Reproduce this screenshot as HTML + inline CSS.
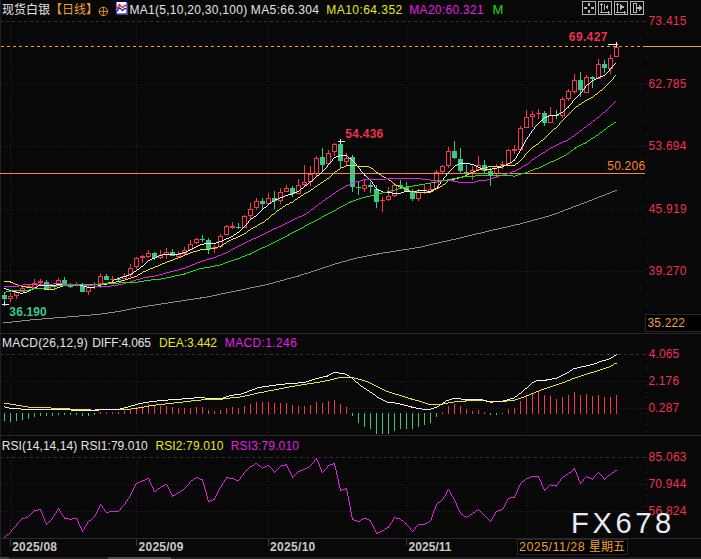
<!DOCTYPE html><html><head><meta charset="utf-8"><style>html,body{margin:0;padding:0;background:#080808;overflow:hidden}</style></head><body><svg width="701" height="559" viewBox="0 0 701 559" style="display:block"><rect width="701" height="559" fill="#080808"/><g shape-rendering="crispEdges" fill="none" stroke-width="1"><path d="M0 21.5H645" stroke="#343434" stroke-dasharray="3 3"/><path d="M1 84.5H645" stroke="#242424" stroke-dasharray="1 2"/><path d="M1 146.5H645" stroke="#242424" stroke-dasharray="1 2"/><path d="M1 209.5H645" stroke="#242424" stroke-dasharray="1 2"/><path d="M1 271.5H645" stroke="#242424" stroke-dasharray="1 2"/><path d="M10.5 18V333" stroke="#242424" stroke-dasharray="1 2"/><path d="M10.5 354V435" stroke="#242424" stroke-dasharray="1 2"/><path d="M10.5 457V538" stroke="#242424" stroke-dasharray="1 2"/><path d="M136.5 18V333" stroke="#242424" stroke-dasharray="1 2"/><path d="M136.5 354V435" stroke="#242424" stroke-dasharray="1 2"/><path d="M136.5 457V538" stroke="#242424" stroke-dasharray="1 2"/><path d="M268.5 18V333" stroke="#242424" stroke-dasharray="1 2"/><path d="M268.5 354V435" stroke="#242424" stroke-dasharray="1 2"/><path d="M268.5 457V538" stroke="#242424" stroke-dasharray="1 2"/><path d="M406.5 18V333" stroke="#242424" stroke-dasharray="1 2"/><path d="M406.5 354V435" stroke="#242424" stroke-dasharray="1 2"/><path d="M406.5 457V538" stroke="#242424" stroke-dasharray="1 2"/><path d="M526.5 18V333" stroke="#242424" stroke-dasharray="1 2"/><path d="M526.5 354V435" stroke="#242424" stroke-dasharray="1 2"/><path d="M526.5 457V538" stroke="#242424" stroke-dasharray="1 2"/><path d="M0 354.5H645" stroke="#343434" stroke-dasharray="3 3"/><path d="M1 381.5H645" stroke="#242424" stroke-dasharray="1 2"/><path d="M1 408.5H645" stroke="#242424" stroke-dasharray="1 2"/><path d="M0 457.5H645" stroke="#343434" stroke-dasharray="3 3"/><path d="M1 484.5H645" stroke="#242424" stroke-dasharray="1 2"/><path d="M1 511.5H645" stroke="#242424" stroke-dasharray="1 2"/><path d="M0 333.5H701M0 435.5H701M0 538.5H701" stroke="#292929"/><path d="M0.5 0V557" stroke="#202020"/><path d="M646.5 21V333" stroke="#333" stroke-dasharray="1 11.4"/><path d="M646.5 354V435" stroke="#333" stroke-dasharray="1 4.4"/><path d="M646.5 457V538" stroke="#333" stroke-dasharray="1 4.4"/><path d="M10.5 539V546" stroke="#3a3a3a"/><path d="M136.5 539V546" stroke="#3a3a3a"/><path d="M268.5 539V546" stroke="#3a3a3a"/><path d="M406.5 539V546" stroke="#3a3a3a"/><path d="M0 558H701" stroke="#1d1d1f" stroke-width="2"/><path d="M108 558H171" stroke="#4c4c55" stroke-width="2"/><path d="M0 558H9" stroke="#3c3c42" stroke-width="2"/></g><g shape-rendering="crispEdges"><rect x="4" y="293" width="1" height="10" fill="#38c886"/><rect x="2" y="295" width="5" height="4" fill="#38c886"/><rect x="10" y="293" width="1" height="9" fill="#f93357"/><rect x="8.5" y="296.5" width="4" height="2" fill="#000" stroke="#f93357"/><rect x="16" y="290" width="1" height="9" fill="#f93357"/><rect x="14.5" y="292.5" width="4" height="3" fill="#000" stroke="#f93357"/><rect x="22" y="287" width="1" height="5" fill="#f93357"/><rect x="20.5" y="288.5" width="4" height="3" fill="#000" stroke="#f93357"/><rect x="28" y="284" width="1" height="4" fill="#f93357"/><rect x="26" y="286" width="5" height="2" fill="#f93357"/><rect x="34" y="279" width="1" height="9" fill="#f93357"/><rect x="32.5" y="283.5" width="4" height="4" fill="#000" stroke="#f93357"/><rect x="40" y="279" width="1" height="5" fill="#f93357"/><rect x="38" y="281" width="5" height="2" fill="#f93357"/><rect x="46" y="280" width="1" height="10" fill="#38c886"/><rect x="44" y="282" width="5" height="8" fill="#38c886"/><rect x="52" y="286" width="1" height="4" fill="#f93357"/><rect x="50.5" y="286.5" width="4" height="3" fill="#000" stroke="#f93357"/><rect x="58" y="278" width="1" height="8" fill="#f93357"/><rect x="56.5" y="280.5" width="4" height="5" fill="#000" stroke="#f93357"/><rect x="64" y="277" width="1" height="9" fill="#38c886"/><rect x="62" y="280" width="5" height="4" fill="#38c886"/><rect x="70" y="283" width="1" height="5" fill="#38c886"/><rect x="68" y="285" width="5" height="2" fill="#38c886"/><rect x="76" y="282" width="1" height="4" fill="#f93357"/><rect x="74" y="284" width="5" height="2" fill="#f93357"/><rect x="82" y="283" width="1" height="9" fill="#38c886"/><rect x="80" y="285" width="5" height="7" fill="#38c886"/><rect x="88" y="285" width="1" height="10" fill="#f93357"/><rect x="86.5" y="287.5" width="4" height="4" fill="#000" stroke="#f93357"/><rect x="94" y="282" width="1" height="7" fill="#f93357"/><rect x="92" y="284" width="5" height="1" fill="#f93357"/><rect x="100" y="273" width="1" height="15" fill="#f93357"/><rect x="98.5" y="276.5" width="4" height="7" fill="#000" stroke="#f93357"/><rect x="106" y="274" width="1" height="6" fill="#38c886"/><rect x="104" y="276" width="5" height="4" fill="#38c886"/><rect x="112" y="276" width="1" height="5" fill="#f93357"/><rect x="110" y="279" width="5" height="1" fill="#f93357"/><rect x="118" y="277" width="1" height="5" fill="#38c886"/><rect x="116" y="279" width="5" height="1" fill="#38c886"/><rect x="124" y="273" width="1" height="6" fill="#f93357"/><rect x="122.5" y="276.5" width="4" height="2" fill="#000" stroke="#f93357"/><rect x="130" y="264" width="1" height="13" fill="#f93357"/><rect x="128.5" y="268.5" width="4" height="6" fill="#000" stroke="#f93357"/><rect x="136" y="257" width="1" height="12" fill="#f93357"/><rect x="134.5" y="258.5" width="4" height="8" fill="#000" stroke="#f93357"/><rect x="142" y="255" width="1" height="8" fill="#f93357"/><rect x="140" y="256" width="5" height="2" fill="#f93357"/><rect x="148" y="250" width="1" height="8" fill="#f93357"/><rect x="146.5" y="253.5" width="4" height="3" fill="#000" stroke="#f93357"/><rect x="154" y="252" width="1" height="8" fill="#38c886"/><rect x="152" y="253" width="5" height="5" fill="#38c886"/><rect x="160" y="250" width="1" height="9" fill="#f93357"/><rect x="158.5" y="255.5" width="4" height="2" fill="#000" stroke="#f93357"/><rect x="166" y="248" width="1" height="11" fill="#f93357"/><rect x="164.5" y="252.5" width="4" height="2" fill="#000" stroke="#f93357"/><rect x="172" y="249" width="1" height="7" fill="#38c886"/><rect x="170" y="252" width="5" height="4" fill="#38c886"/><rect x="178" y="251" width="1" height="6" fill="#f93357"/><rect x="176.5" y="254.5" width="4" height="2" fill="#000" stroke="#f93357"/><rect x="184" y="247" width="1" height="8" fill="#f93357"/><rect x="182.5" y="250.5" width="4" height="3" fill="#000" stroke="#f93357"/><rect x="190" y="240" width="1" height="10" fill="#f93357"/><rect x="188.5" y="244.5" width="4" height="5" fill="#000" stroke="#f93357"/><rect x="196" y="238" width="1" height="6" fill="#f93357"/><rect x="194.5" y="239.5" width="4" height="3" fill="#000" stroke="#f93357"/><rect x="202" y="235" width="1" height="7" fill="#38c886"/><rect x="200" y="239" width="5" height="1" fill="#38c886"/><rect x="208" y="238" width="1" height="16" fill="#38c886"/><rect x="206" y="240" width="5" height="9" fill="#38c886"/><rect x="214" y="245" width="1" height="8" fill="#f93357"/><rect x="212" y="247" width="5" height="2" fill="#f93357"/><rect x="220" y="234" width="1" height="14" fill="#f93357"/><rect x="218.5" y="236.5" width="4" height="10" fill="#000" stroke="#f93357"/><rect x="226" y="225" width="1" height="10" fill="#f93357"/><rect x="224.5" y="226.5" width="4" height="8" fill="#000" stroke="#f93357"/><rect x="232" y="222" width="1" height="7" fill="#f93357"/><rect x="230" y="226" width="5" height="2" fill="#f93357"/><rect x="238" y="223" width="1" height="6" fill="#38c886"/><rect x="236" y="227" width="5" height="1" fill="#38c886"/><rect x="244" y="215" width="1" height="13" fill="#f93357"/><rect x="242.5" y="216.5" width="4" height="11" fill="#000" stroke="#f93357"/><rect x="250" y="203" width="1" height="17" fill="#f93357"/><rect x="248.5" y="209.5" width="4" height="6" fill="#000" stroke="#f93357"/><rect x="256" y="198" width="1" height="12" fill="#f93357"/><rect x="254.5" y="201.5" width="4" height="6" fill="#000" stroke="#f93357"/><rect x="262" y="198" width="1" height="12" fill="#38c886"/><rect x="260" y="201" width="5" height="3" fill="#38c886"/><rect x="268" y="193" width="1" height="11" fill="#f93357"/><rect x="266.5" y="198.5" width="4" height="5" fill="#000" stroke="#f93357"/><rect x="274" y="191" width="1" height="18" fill="#38c886"/><rect x="272" y="198" width="5" height="3" fill="#38c886"/><rect x="280" y="188" width="1" height="16" fill="#f93357"/><rect x="278.5" y="192.5" width="4" height="8" fill="#000" stroke="#f93357"/><rect x="286" y="185" width="1" height="7" fill="#f93357"/><rect x="284.5" y="188.5" width="4" height="3" fill="#000" stroke="#f93357"/><rect x="292" y="186" width="1" height="11" fill="#38c886"/><rect x="290" y="188" width="5" height="6" fill="#38c886"/><rect x="298" y="179" width="1" height="15" fill="#f93357"/><rect x="296.5" y="185.5" width="4" height="8" fill="#000" stroke="#f93357"/><rect x="304" y="165" width="1" height="22" fill="#f93357"/><rect x="302.5" y="182.5" width="4" height="2" fill="#000" stroke="#f93357"/><rect x="310" y="166" width="1" height="20" fill="#f93357"/><rect x="308.5" y="174.5" width="4" height="7" fill="#000" stroke="#f93357"/><rect x="316" y="156" width="1" height="20" fill="#f93357"/><rect x="314.5" y="158.5" width="4" height="15" fill="#000" stroke="#f93357"/><rect x="322" y="148" width="1" height="24" fill="#38c886"/><rect x="320" y="157" width="5" height="8" fill="#38c886"/><rect x="328" y="150" width="1" height="14" fill="#f93357"/><rect x="326.5" y="153.5" width="4" height="10" fill="#000" stroke="#f93357"/><rect x="334" y="143" width="1" height="13" fill="#f93357"/><rect x="332.5" y="144.5" width="4" height="7" fill="#000" stroke="#f93357"/><rect x="340" y="141" width="1" height="28" fill="#38c886"/><rect x="338" y="144" width="5" height="17" fill="#38c886"/><rect x="346" y="153" width="1" height="12" fill="#f93357"/><rect x="344.5" y="158.5" width="4" height="3" fill="#000" stroke="#f93357"/><rect x="352" y="155" width="1" height="37" fill="#38c886"/><rect x="350" y="157" width="5" height="30" fill="#38c886"/><rect x="358" y="182" width="1" height="13" fill="#38c886"/><rect x="356" y="187" width="5" height="1" fill="#38c886"/><rect x="364" y="179" width="1" height="13" fill="#f93357"/><rect x="362.5" y="185.5" width="4" height="3" fill="#000" stroke="#f93357"/><rect x="370" y="182" width="1" height="11" fill="#38c886"/><rect x="368" y="185" width="5" height="2" fill="#38c886"/><rect x="376" y="185" width="1" height="23" fill="#38c886"/><rect x="374" y="189" width="5" height="13" fill="#38c886"/><rect x="382" y="197" width="1" height="15" fill="#f93357"/><rect x="380" y="200" width="5" height="1" fill="#f93357"/><rect x="388" y="187" width="1" height="14" fill="#f93357"/><rect x="386.5" y="196.5" width="4" height="3" fill="#000" stroke="#f93357"/><rect x="394" y="183" width="1" height="14" fill="#f93357"/><rect x="392.5" y="185.5" width="4" height="10" fill="#000" stroke="#f93357"/><rect x="400" y="180" width="1" height="8" fill="#38c886"/><rect x="398" y="185" width="5" height="2" fill="#38c886"/><rect x="406" y="182" width="1" height="9" fill="#38c886"/><rect x="404" y="187" width="5" height="4" fill="#38c886"/><rect x="412" y="189" width="1" height="12" fill="#38c886"/><rect x="410" y="192" width="5" height="7" fill="#38c886"/><rect x="418" y="189" width="1" height="12" fill="#f93357"/><rect x="416.5" y="192.5" width="4" height="6" fill="#000" stroke="#f93357"/><rect x="424" y="185" width="1" height="9" fill="#f93357"/><rect x="422" y="192" width="5" height="1" fill="#f93357"/><rect x="430" y="184" width="1" height="8" fill="#f93357"/><rect x="428.5" y="189.5" width="4" height="2" fill="#000" stroke="#f93357"/><rect x="436" y="170" width="1" height="19" fill="#f93357"/><rect x="434.5" y="172.5" width="4" height="16" fill="#000" stroke="#f93357"/><rect x="442" y="165" width="1" height="8" fill="#f93357"/><rect x="440.5" y="166.5" width="4" height="5" fill="#000" stroke="#f93357"/><rect x="448" y="147" width="1" height="21" fill="#f93357"/><rect x="446.5" y="151.5" width="4" height="14" fill="#000" stroke="#f93357"/><rect x="454" y="141" width="1" height="18" fill="#38c886"/><rect x="452" y="151" width="5" height="7" fill="#38c886"/><rect x="460" y="148" width="1" height="25" fill="#38c886"/><rect x="458" y="159" width="5" height="12" fill="#38c886"/><rect x="466" y="165" width="1" height="12" fill="#38c886"/><rect x="464" y="172" width="5" height="2" fill="#38c886"/><rect x="472" y="166" width="1" height="14" fill="#f93357"/><rect x="470.5" y="170.5" width="4" height="2" fill="#000" stroke="#f93357"/><rect x="478" y="156" width="1" height="14" fill="#f93357"/><rect x="476.5" y="165.5" width="4" height="4" fill="#000" stroke="#f93357"/><rect x="484" y="160" width="1" height="13" fill="#38c886"/><rect x="482" y="165" width="5" height="6" fill="#38c886"/><rect x="490" y="168" width="1" height="18" fill="#38c886"/><rect x="488" y="171" width="5" height="5" fill="#38c886"/><rect x="496" y="164" width="1" height="14" fill="#f93357"/><rect x="494.5" y="166.5" width="4" height="7" fill="#000" stroke="#f93357"/><rect x="502" y="161" width="1" height="8" fill="#f93357"/><rect x="500" y="164" width="5" height="1" fill="#f93357"/><rect x="508" y="149" width="1" height="15" fill="#f93357"/><rect x="506.5" y="150.5" width="4" height="13" fill="#000" stroke="#f93357"/><rect x="514" y="145" width="1" height="9" fill="#f93357"/><rect x="512" y="149" width="5" height="2" fill="#f93357"/><rect x="520" y="126" width="1" height="24" fill="#f93357"/><rect x="518.5" y="128.5" width="4" height="21" fill="#000" stroke="#f93357"/><rect x="526" y="110" width="1" height="18" fill="#f93357"/><rect x="524.5" y="117.5" width="4" height="10" fill="#000" stroke="#f93357"/><rect x="532" y="111" width="1" height="16" fill="#f93357"/><rect x="530.5" y="114.5" width="4" height="2" fill="#000" stroke="#f93357"/><rect x="538" y="109" width="1" height="10" fill="#f93357"/><rect x="536" y="113" width="5" height="1" fill="#f93357"/><rect x="544" y="111" width="1" height="15" fill="#38c886"/><rect x="542" y="113" width="5" height="10" fill="#38c886"/><rect x="550" y="107" width="1" height="16" fill="#f93357"/><rect x="548.5" y="115.5" width="4" height="7" fill="#000" stroke="#f93357"/><rect x="556" y="110" width="1" height="9" fill="#38c886"/><rect x="554" y="115" width="5" height="1" fill="#38c886"/><rect x="562" y="97" width="1" height="21" fill="#f93357"/><rect x="560.5" y="99.5" width="4" height="16" fill="#000" stroke="#f93357"/><rect x="568" y="89" width="1" height="12" fill="#f93357"/><rect x="566.5" y="91.5" width="4" height="7" fill="#000" stroke="#f93357"/><rect x="574" y="74" width="1" height="20" fill="#f93357"/><rect x="572.5" y="80.5" width="4" height="11" fill="#000" stroke="#f93357"/><rect x="580" y="72" width="1" height="25" fill="#38c886"/><rect x="578" y="80" width="5" height="10" fill="#38c886"/><rect x="586" y="75" width="1" height="18" fill="#f93357"/><rect x="584.5" y="77.5" width="4" height="15" fill="#000" stroke="#f93357"/><rect x="592" y="76" width="1" height="12" fill="#38c886"/><rect x="590" y="77" width="5" height="2" fill="#38c886"/><rect x="598" y="59" width="1" height="20" fill="#f93357"/><rect x="596.5" y="64.5" width="4" height="14" fill="#000" stroke="#f93357"/><rect x="604" y="60" width="1" height="13" fill="#38c886"/><rect x="602" y="64" width="5" height="4" fill="#38c886"/><rect x="610" y="55" width="1" height="19" fill="#f93357"/><rect x="608.5" y="58.5" width="4" height="10" fill="#000" stroke="#f93357"/><rect x="616" y="44" width="1" height="13" fill="#f93357"/><rect x="614.5" y="47.5" width="4" height="9" fill="#000" stroke="#f93357"/></g><g shape-rendering="crispEdges" fill="none"><path d="M1 46.5H643" stroke="#f0a030" stroke-dasharray="3 3"/><path d="M643 46.5H701" stroke="#f0a030"/><path d="M0 173.5H645" stroke="#ff8238"/></g><path d="M615 63h1v1h-1zM614 64h1v1h-1zM613 65h1v1h-1zM612 66h1v1h-1zM611 67h1v1h-1zM610 68h1v1h-1zM609 69h1v1h-1zM609 70h1v1h-1zM608 71h1v1h-1zM607 72h1v1h-1zM606 73h1v1h-1zM605 74h1v1h-1zM603 75h2v1h-2zM600 76h3v1h-3zM598 77h2v1h-2zM596 78h2v1h-2zM594 79h2v1h-2zM592 80h2v1h-2zM591 81h1v1h-1zM590 82h1v1h-1zM589 83h1v1h-1zM587 84h2v1h-2zM586 85h1v1h-1zM585 86h1v1h-1zM585 87h1v1h-1zM584 88h1v1h-1zM583 89h1v1h-1zM582 90h1v1h-1zM582 91h1v1h-1zM581 92h1v1h-1zM580 93h1v1h-1zM579 94h1v1h-1zM578 95h1v1h-1zM577 96h1v1h-1zM576 97h1v1h-1zM575 98h1v1h-1zM574 99h1v1h-1zM573 100h1v1h-1zM572 101h1v1h-1zM572 102h1v1h-1zM571 103h1v1h-1zM570 104h1v1h-1zM569 105h1v1h-1zM568 106h1v1h-1zM567 107h2v1h-2zM566 108h1v1h-1zM565 109h1v1h-1zM564 110h1v1h-1zM563 111h1v1h-1zM561 112h2v1h-2zM559 113h2v1h-2zM557 114h2v1h-2zM549 115h8v1h-8zM547 116h2v1h-2zM544 117h3v1h-3zM543 118h1v1h-1zM542 119h1v1h-1zM541 120h1v1h-1zM540 121h1v1h-1zM539 122h1v1h-1zM538 123h1v1h-1zM537 124h1v1h-1zM536 125h1v1h-1zM535 126h1v1h-1zM534 127h1v1h-1zM534 128h1v1h-1zM533 129h1v1h-1zM532 130h1v1h-1zM531 131h1v1h-1zM531 132h1v1h-1zM530 133h1v1h-1zM529 134h1v1h-1zM529 135h1v1h-1zM528 136h1v1h-1zM527 137h1v1h-1zM527 138h1v1h-1zM526 139h1v1h-1zM525 140h1v1h-1zM525 141h1v1h-1zM524 142h1v1h-1zM524 143h1v1h-1zM523 144h1v1h-1zM523 145h1v1h-1zM522 146h1v1h-1zM521 147h1v1h-1zM521 148h1v1h-1zM520 149h1v1h-1zM520 150h1v1h-1zM519 151h1v1h-1zM519 152h1v1h-1zM518 153h1v1h-1zM517 154h1v1h-1zM339 155h8v1h-8zM517 155h1v1h-1zM336 156h3v1h-3zM347 156h1v1h-1zM516 156h1v1h-1zM334 157h2v1h-2zM348 157h1v1h-1zM516 157h1v1h-1zM333 158h1v1h-1zM349 158h2v1h-2zM515 158h1v1h-1zM332 159h1v1h-1zM351 159h1v1h-1zM514 159h1v1h-1zM332 160h1v1h-1zM352 160h1v1h-1zM513 160h2v1h-2zM331 161h1v1h-1zM353 161h1v1h-1zM512 161h1v1h-1zM330 162h1v1h-1zM354 162h1v1h-1zM510 162h2v1h-2zM329 163h1v1h-1zM355 163h1v1h-1zM459 163h11v1h-11zM508 163h2v1h-2zM328 164h1v1h-1zM356 164h1v1h-1zM457 164h2v1h-2zM470 164h4v1h-4zM506 164h2v1h-2zM327 165h1v1h-1zM356 165h1v1h-1zM455 165h2v1h-2zM474 165h2v1h-2zM504 165h2v1h-2zM327 166h1v1h-1zM357 166h1v1h-1zM454 166h1v1h-1zM476 166h2v1h-2zM502 166h2v1h-2zM326 167h1v1h-1zM358 167h1v1h-1zM453 167h1v1h-1zM478 167h2v1h-2zM497 167h5v1h-5zM325 168h1v1h-1zM359 168h1v1h-1zM452 168h1v1h-1zM480 168h5v1h-5zM492 168h5v1h-5zM324 169h1v1h-1zM360 169h1v1h-1zM451 169h1v1h-1zM485 169h7v1h-7zM323 170h1v1h-1zM360 170h1v1h-1zM450 170h1v1h-1zM322 171h1v1h-1zM361 171h1v1h-1zM449 171h1v1h-1zM321 172h1v1h-1zM362 172h1v1h-1zM448 172h1v1h-1zM320 173h1v1h-1zM363 173h1v1h-1zM447 173h1v1h-1zM319 174h1v1h-1zM364 174h1v1h-1zM446 174h1v1h-1zM317 175h2v1h-2zM364 175h2v1h-2zM446 175h1v1h-1zM316 176h1v1h-1zM366 176h1v1h-1zM445 176h1v1h-1zM315 177h1v1h-1zM367 177h1v1h-1zM444 177h1v1h-1zM314 178h1v1h-1zM368 178h1v1h-1zM443 178h1v1h-1zM313 179h1v1h-1zM369 179h1v1h-1zM443 179h1v1h-1zM312 180h1v1h-1zM370 180h1v1h-1zM442 180h1v1h-1zM310 181h2v1h-2zM371 181h1v1h-1zM441 181h1v1h-1zM309 182h1v1h-1zM372 182h1v1h-1zM440 182h1v1h-1zM308 183h1v1h-1zM372 183h1v1h-1zM440 183h1v1h-1zM307 184h1v1h-1zM373 184h1v1h-1zM439 184h1v1h-1zM305 185h2v1h-2zM374 185h1v1h-1zM438 185h1v1h-1zM304 186h1v1h-1zM374 186h1v1h-1zM437 186h1v1h-1zM303 187h1v1h-1zM375 187h1v1h-1zM437 187h1v1h-1zM301 188h2v1h-2zM376 188h1v1h-1zM435 188h2v1h-2zM300 189h1v1h-1zM376 189h2v1h-2zM433 189h2v1h-2zM299 190h1v1h-1zM378 190h3v1h-3zM417 190h10v1h-10zM431 190h2v1h-2zM297 191h2v1h-2zM381 191h2v1h-2zM404 191h13v1h-13zM427 191h4v1h-4zM294 192h3v1h-3zM383 192h9v1h-9zM401 192h3v1h-3zM292 193h2v1h-2zM392 193h9v1h-9zM288 194h4v1h-4zM285 195h3v1h-3zM283 196h2v1h-2zM280 197h3v1h-3zM278 198h2v1h-2zM275 199h3v1h-3zM274 200h1v1h-1zM272 201h2v1h-2zM271 202h1v1h-1zM269 203h2v1h-2zM268 204h1v1h-1zM267 205h1v1h-1zM266 206h1v1h-1zM264 207h2v1h-2zM263 208h1v1h-1zM262 209h1v1h-1zM261 210h1v1h-1zM260 211h1v1h-1zM259 212h1v1h-1zM258 213h1v1h-1zM257 214h1v1h-1zM256 215h1v1h-1zM254 216h2v1h-2zM253 217h1v1h-1zM251 218h2v1h-2zM250 219h1v1h-1zM249 220h1v1h-1zM248 221h1v1h-1zM248 222h1v1h-1zM247 223h1v1h-1zM246 224h1v1h-1zM245 225h1v1h-1zM244 226h1v1h-1zM243 227h1v1h-1zM242 228h1v1h-1zM241 229h1v1h-1zM240 230h1v1h-1zM239 231h1v1h-1zM237 232h2v1h-2zM236 233h1v1h-1zM234 234h2v1h-2zM233 235h1v1h-1zM231 236h2v1h-2zM229 237h2v1h-2zM226 238h3v1h-3zM224 239h2v1h-2zM222 240h2v1h-2zM219 241h3v1h-3zM216 242h3v1h-3zM204 243h12v1h-12zM200 244h4v1h-4zM198 245h2v1h-2zM196 246h2v1h-2zM194 247h2v1h-2zM192 248h2v1h-2zM190 249h2v1h-2zM188 250h2v1h-2zM186 251h2v1h-2zM183 252h3v1h-3zM179 253h4v1h-4zM162 254h17v1h-17zM159 255h3v1h-3zM157 256h2v1h-2zM155 257h2v1h-2zM152 258h3v1h-3zM150 259h2v1h-2zM148 260h2v1h-2zM147 261h1v1h-1zM146 262h1v1h-1zM145 263h1v1h-1zM144 264h1v1h-1zM143 265h1v1h-1zM141 266h2v1h-2zM140 267h1v1h-1zM139 268h1v1h-1zM137 269h2v1h-2zM136 270h1v1h-1zM134 271h2v1h-2zM133 272h1v1h-1zM131 273h2v1h-2zM129 274h2v1h-2zM126 275h3v1h-3zM123 276h3v1h-3zM120 277h3v1h-3zM117 278h3v1h-3zM114 279h3v1h-3zM113 280h1v1h-1zM112 281h1v1h-1zM109 282h3v1h-3zM107 283h2v1h-2zM56 284h10v1h-10zM75 284h3v1h-3zM101 284h6v1h-6zM38 285h18v1h-18zM66 285h9v1h-9zM78 285h5v1h-5zM98 285h3v1h-3zM37 286h1v1h-1zM83 286h4v1h-4zM95 286h3v1h-3zM35 287h2v1h-2zM87 287h8v1h-8zM4 288h2v1h-2zM32 288h3v1h-3zM6 289h3v1h-3zM31 289h2v1h-2zM9 290h3v1h-3zM29 290h2v1h-2zM12 291h4v1h-4zM27 291h2v1h-2zM16 292h4v1h-4zM23 292h4v1h-4zM20 293h3v1h-3z" fill="#f2f2f2" shape-rendering="crispEdges"/><path d="M615 75h1v1h-1zM614 76h1v1h-1zM613 77h1v1h-1zM613 78h1v1h-1zM612 79h1v1h-1zM611 80h1v1h-1zM610 81h1v1h-1zM609 82h1v1h-1zM608 83h1v1h-1zM607 84h1v1h-1zM606 85h1v1h-1zM605 86h1v1h-1zM604 87h1v1h-1zM603 88h1v1h-1zM602 89h1v1h-1zM600 90h2v1h-2zM599 91h1v1h-1zM598 92h1v1h-1zM597 93h1v1h-1zM595 94h2v1h-2zM594 95h1v1h-1zM593 96h1v1h-1zM591 97h2v1h-2zM589 98h2v1h-2zM587 99h2v1h-2zM585 100h2v1h-2zM584 101h1v1h-1zM582 102h2v1h-2zM581 103h1v1h-1zM579 104h2v1h-2zM578 105h1v1h-1zM576 106h2v1h-2zM575 107h1v1h-1zM574 108h1v1h-1zM573 109h1v1h-1zM572 110h1v1h-1zM571 111h1v1h-1zM570 112h1v1h-1zM569 113h1v1h-1zM568 114h1v1h-1zM567 115h1v1h-1zM566 116h1v1h-1zM565 117h1v1h-1zM564 118h1v1h-1zM563 119h1v1h-1zM562 120h1v1h-1zM561 121h1v1h-1zM560 122h1v1h-1zM559 123h1v1h-1zM559 124h1v1h-1zM558 125h1v1h-1zM557 126h1v1h-1zM556 127h1v1h-1zM554 128h2v1h-2zM553 129h1v1h-1zM552 130h1v1h-1zM551 131h1v1h-1zM550 132h1v1h-1zM549 133h1v1h-1zM548 134h1v1h-1zM547 135h1v1h-1zM546 136h1v1h-1zM545 137h1v1h-1zM544 138h1v1h-1zM543 139h1v1h-1zM541 140h2v1h-2zM540 141h1v1h-1zM539 142h1v1h-1zM538 143h1v1h-1zM536 144h2v1h-2zM535 145h1v1h-1zM533 146h2v1h-2zM532 147h1v1h-1zM531 148h1v1h-1zM530 149h1v1h-1zM529 150h1v1h-1zM528 151h1v1h-1zM527 152h1v1h-1zM526 153h1v1h-1zM525 154h1v1h-1zM524 155h1v1h-1zM524 156h1v1h-1zM523 157h1v1h-1zM522 158h1v1h-1zM521 159h1v1h-1zM520 160h1v1h-1zM519 161h1v1h-1zM518 162h1v1h-1zM516 163h2v1h-2zM515 164h1v1h-1zM346 165h11v1h-11zM501 165h14v1h-14zM344 166h2v1h-2zM357 166h12v1h-12zM488 166h13v1h-13zM341 167h3v1h-3zM369 167h2v1h-2zM485 167h3v1h-3zM340 168h1v1h-1zM371 168h2v1h-2zM482 168h3v1h-3zM338 169h2v1h-2zM373 169h1v1h-1zM479 169h3v1h-3zM337 170h1v1h-1zM374 170h1v1h-1zM476 170h3v1h-3zM335 171h2v1h-2zM375 171h1v1h-1zM473 171h3v1h-3zM334 172h1v1h-1zM376 172h2v1h-2zM471 172h2v1h-2zM333 173h1v1h-1zM378 173h1v1h-1zM469 173h2v1h-2zM332 174h1v1h-1zM379 174h2v1h-2zM467 174h2v1h-2zM331 175h1v1h-1zM381 175h1v1h-1zM465 175h2v1h-2zM330 176h1v1h-1zM382 176h2v1h-2zM462 176h3v1h-3zM329 177h1v1h-1zM384 177h2v1h-2zM459 177h3v1h-3zM327 178h2v1h-2zM386 178h2v1h-2zM455 178h4v1h-4zM326 179h1v1h-1zM388 179h1v1h-1zM452 179h3v1h-3zM324 180h2v1h-2zM389 180h2v1h-2zM448 180h4v1h-4zM323 181h1v1h-1zM391 181h1v1h-1zM447 181h1v1h-1zM321 182h2v1h-2zM392 182h1v1h-1zM446 182h1v1h-1zM320 183h1v1h-1zM393 183h1v1h-1zM445 183h1v1h-1zM318 184h2v1h-2zM394 184h2v1h-2zM443 184h2v1h-2zM317 185h1v1h-1zM396 185h2v1h-2zM442 185h1v1h-1zM315 186h2v1h-2zM398 186h2v1h-2zM440 186h2v1h-2zM314 187h1v1h-1zM400 187h3v1h-3zM438 187h2v1h-2zM313 188h1v1h-1zM403 188h2v1h-2zM436 188h2v1h-2zM311 189h2v1h-2zM405 189h3v1h-3zM434 189h2v1h-2zM310 190h1v1h-1zM408 190h2v1h-2zM433 190h1v1h-1zM308 191h2v1h-2zM410 191h5v1h-5zM431 191h2v1h-2zM306 192h2v1h-2zM415 192h16v1h-16zM304 193h2v1h-2zM303 194h1v1h-1zM301 195h2v1h-2zM300 196h1v1h-1zM298 197h2v1h-2zM297 198h1v1h-1zM295 199h2v1h-2zM294 200h1v1h-1zM293 201h1v1h-1zM290 202h3v1h-3zM289 203h1v1h-1zM286 204h3v1h-3zM285 205h1v1h-1zM283 206h2v1h-2zM282 207h1v1h-1zM280 208h2v1h-2zM279 209h1v1h-1zM277 210h2v1h-2zM276 211h1v1h-1zM275 212h1v1h-1zM274 213h1v1h-1zM272 214h2v1h-2zM271 215h1v1h-1zM270 216h1v1h-1zM269 217h1v1h-1zM268 218h1v1h-1zM266 219h2v1h-2zM265 220h1v1h-1zM264 221h1v1h-1zM262 222h2v1h-2zM260 223h2v1h-2zM258 224h2v1h-2zM257 225h1v1h-1zM255 226h2v1h-2zM253 227h2v1h-2zM251 228h2v1h-2zM250 229h1v1h-1zM248 230h2v1h-2zM247 231h1v1h-1zM246 232h1v1h-1zM244 233h2v1h-2zM242 234h2v1h-2zM240 235h2v1h-2zM238 236h2v1h-2zM236 237h2v1h-2zM233 238h3v1h-3zM231 239h2v1h-2zM229 240h2v1h-2zM227 241h2v1h-2zM226 242h1v1h-1zM224 243h2v1h-2zM222 244h2v1h-2zM221 245h1v1h-1zM218 246h3v1h-3zM215 247h3v1h-3zM210 248h5v1h-5zM200 249h10v1h-10zM197 250h3v1h-3zM193 251h4v1h-4zM190 252h3v1h-3zM188 253h2v1h-2zM185 254h3v1h-3zM183 255h2v1h-2zM181 256h2v1h-2zM178 257h3v1h-3zM175 258h3v1h-3zM173 259h2v1h-2zM170 260h3v1h-3zM167 261h3v1h-3zM165 262h2v1h-2zM162 263h3v1h-3zM160 264h2v1h-2zM158 265h2v1h-2zM155 266h3v1h-3zM153 267h2v1h-2zM150 268h3v1h-3zM148 269h2v1h-2zM146 270h2v1h-2zM143 271h3v1h-3zM142 272h1v1h-1zM140 273h2v1h-2zM138 274h2v1h-2zM137 275h1v1h-1zM134 276h3v1h-3zM131 277h3v1h-3zM128 278h3v1h-3zM125 279h3v1h-3zM121 280h4v1h-4zM4 281h7v1h-7zM116 281h5v1h-5zM10 282h3v1h-3zM108 282h8v1h-8zM13 283h2v1h-2zM103 283h5v1h-5zM15 284h3v1h-3zM78 284h25v1h-25zM18 285h3v1h-3zM63 285h16v1h-16zM21 286h5v1h-5zM60 286h3v1h-3zM26 287h6v1h-6zM57 287h3v1h-3zM32 288h13v1h-13zM55 288h2v1h-2zM44 289h11v1h-11z" fill="#e6e620" shape-rendering="crispEdges"/><path d="M615 101h1v1h-1zM614 102h1v1h-1zM613 103h1v1h-1zM612 104h1v1h-1zM611 105h1v1h-1zM610 106h1v1h-1zM609 107h1v1h-1zM608 108h1v1h-1zM607 109h1v1h-1zM606 110h1v1h-1zM605 111h1v1h-1zM603 112h2v1h-2zM602 113h1v1h-1zM601 114h1v1h-1zM600 115h1v1h-1zM599 116h1v1h-1zM597 117h2v1h-2zM596 118h1v1h-1zM595 119h1v1h-1zM593 120h2v1h-2zM592 121h1v1h-1zM591 122h1v1h-1zM590 123h1v1h-1zM588 124h2v1h-2zM587 125h1v1h-1zM586 126h1v1h-1zM584 127h2v1h-2zM583 128h1v1h-1zM582 129h1v1h-1zM580 130h2v1h-2zM579 131h1v1h-1zM578 132h1v1h-1zM576 133h2v1h-2zM575 134h1v1h-1zM574 135h1v1h-1zM572 136h2v1h-2zM571 137h1v1h-1zM569 138h2v1h-2zM568 139h1v1h-1zM566 140h2v1h-2zM563 141h3v1h-3zM561 142h2v1h-2zM559 143h2v1h-2zM557 144h2v1h-2zM555 145h2v1h-2zM553 146h2v1h-2zM551 147h2v1h-2zM549 148h2v1h-2zM548 149h1v1h-1zM546 150h2v1h-2zM545 151h1v1h-1zM543 152h2v1h-2zM541 153h2v1h-2zM540 154h1v1h-1zM538 155h2v1h-2zM537 156h1v1h-1zM535 157h2v1h-2zM534 158h1v1h-1zM532 159h2v1h-2zM531 160h1v1h-1zM530 161h1v1h-1zM529 162h1v1h-1zM528 163h1v1h-1zM526 164h2v1h-2zM524 165h2v1h-2zM522 166h2v1h-2zM521 167h1v1h-1zM519 168h2v1h-2zM517 169h2v1h-2zM515 170h2v1h-2zM512 171h3v1h-3zM510 172h2v1h-2zM507 173h3v1h-3zM503 174h4v1h-4zM499 175h4v1h-4zM496 176h3v1h-3zM493 177h3v1h-3zM386 178h36v1h-36zM490 178h3v1h-3zM363 179h23v1h-23zM422 179h8v1h-8zM487 179h3v1h-3zM360 180h3v1h-3zM430 180h24v1h-24zM478 180h9v1h-9zM356 181h4v1h-4zM453 181h5v1h-5zM475 181h3v1h-3zM353 182h3v1h-3zM458 182h17v1h-17zM351 183h2v1h-2zM349 184h2v1h-2zM346 185h3v1h-3zM345 186h1v1h-1zM343 187h2v1h-2zM341 188h2v1h-2zM339 189h2v1h-2zM338 190h1v1h-1zM336 191h2v1h-2zM335 192h1v1h-1zM333 193h2v1h-2zM332 194h1v1h-1zM331 195h1v1h-1zM329 196h2v1h-2zM328 197h1v1h-1zM326 198h2v1h-2zM325 199h1v1h-1zM323 200h2v1h-2zM322 201h1v1h-1zM321 202h1v1h-1zM319 203h2v1h-2zM318 204h1v1h-1zM317 205h1v1h-1zM315 206h2v1h-2zM314 207h1v1h-1zM313 208h1v1h-1zM311 209h2v1h-2zM310 210h1v1h-1zM309 211h1v1h-1zM307 212h2v1h-2zM306 213h1v1h-1zM304 214h2v1h-2zM302 215h2v1h-2zM299 216h3v1h-3zM297 217h2v1h-2zM295 218h2v1h-2zM293 219h2v1h-2zM291 220h2v1h-2zM289 221h2v1h-2zM287 222h2v1h-2zM285 223h2v1h-2zM283 224h2v1h-2zM281 225h2v1h-2zM279 226h2v1h-2zM277 227h2v1h-2zM274 228h3v1h-3zM272 229h2v1h-2zM270 230h2v1h-2zM268 231h2v1h-2zM266 232h2v1h-2zM264 233h2v1h-2zM262 234h2v1h-2zM260 235h2v1h-2zM258 236h2v1h-2zM256 237h2v1h-2zM253 238h3v1h-3zM251 239h2v1h-2zM249 240h2v1h-2zM247 241h2v1h-2zM245 242h2v1h-2zM243 243h2v1h-2zM241 244h2v1h-2zM239 245h2v1h-2zM237 246h2v1h-2zM235 247h2v1h-2zM233 248h2v1h-2zM231 249h2v1h-2zM230 250h1v1h-1zM228 251h2v1h-2zM226 252h2v1h-2zM223 253h3v1h-3zM221 254h2v1h-2zM218 255h3v1h-3zM216 256h2v1h-2zM213 257h3v1h-3zM209 258h4v1h-4zM206 259h3v1h-3zM203 260h3v1h-3zM200 261h3v1h-3zM197 262h3v1h-3zM195 263h2v1h-2zM192 264h3v1h-3zM190 265h2v1h-2zM187 266h3v1h-3zM185 267h2v1h-2zM181 268h4v1h-4zM178 269h3v1h-3zM174 270h4v1h-4zM170 271h4v1h-4zM166 272h4v1h-4zM163 273h3v1h-3zM159 274h4v1h-4zM155 275h4v1h-4zM149 276h6v1h-6zM143 277h6v1h-6zM140 278h3v1h-3zM136 279h4v1h-4zM133 280h3v1h-3zM130 281h3v1h-3zM126 282h4v1h-4zM53 283h9v1h-9zM123 283h3v1h-3zM23 284h30v1h-30zM62 284h21v1h-21zM118 284h5v1h-5zM19 285h4v1h-4zM83 285h10v1h-10zM111 285h7v1h-7zM4 286h15v1h-15zM93 286h18v1h-18z" fill="#e61ee6" shape-rendering="crispEdges"/><path d="M614 122h2v1h-2zM613 123h1v1h-1zM611 124h2v1h-2zM610 125h1v1h-1zM608 126h2v1h-2zM607 127h1v1h-1zM606 128h1v1h-1zM604 129h2v1h-2zM603 130h1v1h-1zM602 131h1v1h-1zM600 132h2v1h-2zM599 133h1v1h-1zM598 134h1v1h-1zM596 135h2v1h-2zM595 136h1v1h-1zM593 137h2v1h-2zM591 138h2v1h-2zM590 139h1v1h-1zM588 140h2v1h-2zM587 141h1v1h-1zM585 142h2v1h-2zM583 143h3v1h-3zM581 144h2v1h-2zM579 145h2v1h-2zM577 146h2v1h-2zM575 147h2v1h-2zM574 148h2v1h-2zM573 149h1v1h-1zM571 150h2v1h-2zM570 151h1v1h-1zM569 152h1v1h-1zM567 153h2v1h-2zM566 154h1v1h-1zM564 155h2v1h-2zM562 156h2v1h-2zM560 157h2v1h-2zM558 158h2v1h-2zM556 159h2v1h-2zM554 160h2v1h-2zM551 161h3v1h-3zM549 162h2v1h-2zM547 163h2v1h-2zM545 164h2v1h-2zM543 165h2v1h-2zM541 166h2v1h-2zM539 167h2v1h-2zM535 168h4v1h-4zM533 169h2v1h-2zM530 170h3v1h-3zM528 171h2v1h-2zM525 172h3v1h-3zM521 173h4v1h-4zM518 174h3v1h-3zM475 175h38v1h-38zM515 175h3v1h-3zM463 176h12v1h-12zM513 176h2v1h-2zM457 177h6v1h-6zM452 178h5v1h-5zM447 179h5v1h-5zM442 180h5v1h-5zM437 181h5v1h-5zM431 182h6v1h-6zM425 183h6v1h-6zM419 184h6v1h-6zM413 185h6v1h-6zM407 186h6v1h-6zM402 187h5v1h-5zM398 188h4v1h-4zM395 189h3v1h-3zM391 190h4v1h-4zM387 191h4v1h-4zM382 192h5v1h-5zM378 193h4v1h-4zM374 194h4v1h-4zM370 195h4v1h-4zM366 196h4v1h-4zM362 197h4v1h-4zM359 198h3v1h-3zM356 199h3v1h-3zM353 200h3v1h-3zM350 201h3v1h-3zM348 202h3v1h-3zM347 203h1v1h-1zM345 204h2v1h-2zM343 205h2v1h-2zM341 206h2v1h-2zM339 207h2v1h-2zM337 208h2v1h-2zM336 209h1v1h-1zM334 210h2v1h-2zM332 211h2v1h-2zM330 212h2v1h-2zM328 213h2v1h-2zM326 214h2v1h-2zM324 215h2v1h-2zM322 216h2v1h-2zM321 217h1v1h-1zM319 218h2v1h-2zM317 219h2v1h-2zM315 220h2v1h-2zM313 221h2v1h-2zM311 222h2v1h-2zM309 223h2v1h-2zM307 224h2v1h-2zM305 225h2v1h-2zM304 226h1v1h-1zM302 227h2v1h-2zM300 228h2v1h-2zM298 229h2v1h-2zM296 230h2v1h-2zM294 231h2v1h-2zM292 232h2v1h-2zM290 233h2v1h-2zM288 234h2v1h-2zM287 235h2v1h-2zM285 236h2v1h-2zM283 237h2v1h-2zM281 238h2v1h-2zM279 239h2v1h-2zM277 240h2v1h-2zM275 241h2v1h-2zM273 242h2v1h-2zM271 243h2v1h-2zM269 244h2v1h-2zM267 245h2v1h-2zM265 246h2v1h-2zM262 247h3v1h-3zM260 248h2v1h-2zM258 249h2v1h-2zM256 250h2v1h-2zM254 251h2v1h-2zM252 252h2v1h-2zM250 253h2v1h-2zM247 254h4v1h-4zM245 255h2v1h-2zM242 256h3v1h-3zM240 257h2v1h-2zM237 258h3v1h-3zM234 259h3v1h-3zM231 260h3v1h-3zM228 261h3v1h-3zM225 262h3v1h-3zM223 263h2v1h-2zM220 264h3v1h-3zM215 265h5v1h-5zM210 266h5v1h-5zM204 267h6v1h-6zM199 268h5v1h-5zM196 269h3v1h-3zM193 270h3v1h-3zM190 271h3v1h-3zM187 272h3v1h-3zM184 273h3v1h-3zM180 274h5v1h-5zM175 275h5v1h-5zM171 276h4v1h-4zM166 277h5v1h-5zM161 278h5v1h-5zM151 279h10v1h-10zM144 280h7v1h-7zM138 281h6v1h-6zM119 282h19v1h-19zM104 283h15v1h-15zM80 284h24v1h-24zM57 285h23v1h-23zM51 286h6v1h-6zM44 287h7v1h-7zM32 288h12v1h-12zM29 289h3v1h-3zM11 290h18v1h-18zM6 291h5v1h-5zM4 292h2v1h-2z" fill="#1edc1e" shape-rendering="crispEdges"/><path d="M615 190h2v1h-2zM612 191h3v1h-3zM610 192h2v1h-2zM607 193h3v1h-3zM605 194h2v1h-2zM602 195h3v1h-3zM599 196h3v1h-3zM597 197h2v1h-2zM594 198h3v1h-3zM592 199h2v1h-2zM589 200h3v1h-3zM587 201h2v1h-2zM584 202h3v1h-3zM581 203h3v1h-3zM579 204h2v1h-2zM576 205h3v1h-3zM573 206h3v1h-3zM571 207h2v1h-2zM568 208h3v1h-3zM565 209h3v1h-3zM563 210h2v1h-2zM560 211h3v1h-3zM558 212h2v1h-2zM555 213h3v1h-3zM552 214h3v1h-3zM549 215h3v1h-3zM545 216h4v1h-4zM542 217h3v1h-3zM538 218h4v1h-4zM534 219h4v1h-4zM531 220h3v1h-3zM527 221h4v1h-4zM523 222h4v1h-4zM520 223h3v1h-3zM515 224h5v1h-5zM511 225h4v1h-4zM507 226h4v1h-4zM502 227h5v1h-5zM498 228h4v1h-4zM493 229h5v1h-5zM489 230h4v1h-4zM485 231h4v1h-4zM481 232h4v1h-4zM476 233h5v1h-5zM472 234h4v1h-4zM468 235h4v1h-4zM464 236h4v1h-4zM460 237h4v1h-4zM456 238h4v1h-4zM451 239h5v1h-5zM447 240h4v1h-4zM442 241h5v1h-5zM438 242h4v1h-4zM433 243h5v1h-5zM429 244h4v1h-4zM425 245h4v1h-4zM421 246h4v1h-4zM415 247h6v1h-6zM409 248h6v1h-6zM402 249h7v1h-7zM396 250h6v1h-6zM390 251h6v1h-6zM383 252h7v1h-7zM377 253h6v1h-6zM372 254h6v1h-6zM367 255h5v1h-5zM362 256h5v1h-5zM357 257h5v1h-5zM353 258h4v1h-4zM349 259h4v1h-4zM346 260h3v1h-3zM342 261h4v1h-4zM339 262h3v1h-3zM335 263h4v1h-4zM332 264h3v1h-3zM329 265h3v1h-3zM326 266h3v1h-3zM323 267h3v1h-3zM320 268h3v1h-3zM317 269h3v1h-3zM314 270h3v1h-3zM311 271h3v1h-3zM308 272h3v1h-3zM304 273h4v1h-4zM301 274h3v1h-3zM298 275h3v1h-3zM295 276h4v1h-4zM291 277h4v1h-4zM287 278h4v1h-4zM284 279h3v1h-3zM280 280h4v1h-4zM276 281h4v1h-4zM273 282h3v1h-3zM269 283h4v1h-4zM265 284h4v1h-4zM260 285h5v1h-5zM255 286h5v1h-5zM250 287h5v1h-5zM246 288h4v1h-4zM241 289h5v1h-5zM236 290h5v1h-5zM231 291h5v1h-5zM226 292h5v1h-5zM221 293h5v1h-5zM217 294h4v1h-4zM212 295h5v1h-5zM207 296h5v1h-5zM200 297h7v1h-7zM194 298h7v1h-7zM187 299h7v1h-7zM181 300h6v1h-6zM174 301h7v1h-7zM168 302h6v1h-6zM161 303h7v1h-7zM155 304h6v1h-6zM148 305h7v1h-7zM142 306h6v1h-6zM136 307h6v1h-6zM131 308h5v1h-5zM126 309h5v1h-5zM121 310h5v1h-5zM115 311h6v1h-6zM108 312h7v1h-7zM101 313h7v1h-7zM91 314h10v1h-10zM79 315h12v1h-12zM67 316h12v1h-12zM54 317h13v1h-13zM42 318h12v1h-12zM30 319h12v1h-12zM21 320h9v1h-9zM12 321h9v1h-9zM3 322h9v1h-9z" fill="#8c8c8c" shape-rendering="crispEdges"/><g shape-rendering="crispEdges" fill="#f2f2f2"><rect x="2" y="304" width="7" height="1"/><rect x="4" y="302" width="1" height="4"/><rect x="338" y="141" width="7" height="1"/><rect x="340" y="139" width="1" height="5"/><rect x="608" y="44" width="10" height="1"/><rect x="616" y="42" width="1" height="5"/></g><g shape-rendering="crispEdges"><rect x="4" y="413" width="1" height="8" fill="#38c886"/><rect x="10" y="413" width="1" height="9" fill="#38c886"/><rect x="16" y="413" width="1" height="8" fill="#38c886"/><rect x="22" y="413" width="1" height="7" fill="#38c886"/><rect x="28" y="413" width="1" height="6" fill="#38c886"/><rect x="34" y="413" width="1" height="4" fill="#38c886"/><rect x="40" y="413" width="1" height="3" fill="#38c886"/><rect x="46" y="413" width="1" height="3" fill="#38c886"/><rect x="52" y="413" width="1" height="3" fill="#38c886"/><rect x="58" y="413" width="1" height="2" fill="#38c886"/><rect x="64" y="413" width="1" height="2" fill="#38c886"/><rect x="70" y="413" width="1" height="2" fill="#38c886"/><rect x="76" y="413" width="1" height="2" fill="#38c886"/><rect x="82" y="413" width="1" height="3" fill="#38c886"/><rect x="88" y="413" width="1" height="3" fill="#38c886"/><rect x="94" y="413" width="1" height="2" fill="#38c886"/><rect x="100" y="412" width="1" height="2" fill="#f93357"/><rect x="106" y="412" width="1" height="2" fill="#f93357"/><rect x="112" y="412" width="1" height="2" fill="#f93357"/><rect x="118" y="412" width="1" height="2" fill="#f93357"/><rect x="124" y="411" width="1" height="3" fill="#f93357"/><rect x="130" y="409" width="1" height="5" fill="#f93357"/><rect x="136" y="407" width="1" height="7" fill="#f93357"/><rect x="142" y="406" width="1" height="8" fill="#f93357"/><rect x="148" y="404" width="1" height="10" fill="#f93357"/><rect x="154" y="405" width="1" height="9" fill="#f93357"/><rect x="160" y="406" width="1" height="8" fill="#f93357"/><rect x="166" y="406" width="1" height="8" fill="#f93357"/><rect x="172" y="407" width="1" height="7" fill="#f93357"/><rect x="178" y="408" width="1" height="6" fill="#f93357"/><rect x="184" y="408" width="1" height="6" fill="#f93357"/><rect x="190" y="408" width="1" height="6" fill="#f93357"/><rect x="196" y="407" width="1" height="7" fill="#f93357"/><rect x="202" y="407" width="1" height="7" fill="#f93357"/><rect x="208" y="410" width="1" height="4" fill="#f93357"/><rect x="214" y="411" width="1" height="3" fill="#f93357"/><rect x="220" y="410" width="1" height="4" fill="#f93357"/><rect x="226" y="408" width="1" height="6" fill="#f93357"/><rect x="232" y="407" width="1" height="7" fill="#f93357"/><rect x="238" y="408" width="1" height="6" fill="#f93357"/><rect x="244" y="406" width="1" height="8" fill="#f93357"/><rect x="250" y="404" width="1" height="10" fill="#f93357"/><rect x="256" y="402" width="1" height="12" fill="#f93357"/><rect x="262" y="402" width="1" height="12" fill="#f93357"/><rect x="268" y="402" width="1" height="12" fill="#f93357"/><rect x="274" y="403" width="1" height="11" fill="#f93357"/><rect x="280" y="403" width="1" height="11" fill="#f93357"/><rect x="286" y="403" width="1" height="11" fill="#f93357"/><rect x="292" y="405" width="1" height="9" fill="#f93357"/><rect x="298" y="406" width="1" height="8" fill="#f93357"/><rect x="304" y="406" width="1" height="8" fill="#f93357"/><rect x="310" y="405" width="1" height="9" fill="#f93357"/><rect x="316" y="402" width="1" height="12" fill="#f93357"/><rect x="322" y="403" width="1" height="11" fill="#f93357"/><rect x="328" y="401" width="1" height="13" fill="#f93357"/><rect x="334" y="400" width="1" height="14" fill="#f93357"/><rect x="340" y="404" width="1" height="10" fill="#f93357"/><rect x="346" y="407" width="1" height="7" fill="#f93357"/><rect x="352" y="413" width="1" height="3" fill="#38c886"/><rect x="358" y="413" width="1" height="10" fill="#38c886"/><rect x="364" y="413" width="1" height="14" fill="#38c886"/><rect x="370" y="413" width="1" height="16" fill="#38c886"/><rect x="376" y="413" width="1" height="21" fill="#38c886"/><rect x="382" y="413" width="1" height="21" fill="#38c886"/><rect x="388" y="413" width="1" height="21" fill="#38c886"/><rect x="394" y="413" width="1" height="18" fill="#38c886"/><rect x="400" y="413" width="1" height="16" fill="#38c886"/><rect x="406" y="413" width="1" height="16" fill="#38c886"/><rect x="412" y="413" width="1" height="16" fill="#38c886"/><rect x="418" y="413" width="1" height="14" fill="#38c886"/><rect x="424" y="413" width="1" height="12" fill="#38c886"/><rect x="430" y="413" width="1" height="10" fill="#38c886"/><rect x="436" y="413" width="1" height="4" fill="#38c886"/><rect x="442" y="412" width="1" height="2" fill="#f93357"/><rect x="448" y="406" width="1" height="8" fill="#f93357"/><rect x="454" y="404" width="1" height="10" fill="#f93357"/><rect x="460" y="406" width="1" height="8" fill="#f93357"/><rect x="466" y="409" width="1" height="5" fill="#f93357"/><rect x="472" y="411" width="1" height="3" fill="#f93357"/><rect x="478" y="410" width="1" height="4" fill="#f93357"/><rect x="484" y="412" width="1" height="2" fill="#f93357"/><rect x="490" y="413" width="1" height="2" fill="#38c886"/><rect x="496" y="413" width="1" height="2" fill="#38c886"/><rect x="502" y="413" width="1" height="1" fill="#38c886"/><rect x="508" y="409" width="1" height="5" fill="#f93357"/><rect x="514" y="408" width="1" height="6" fill="#f93357"/><rect x="520" y="401" width="1" height="13" fill="#f93357"/><rect x="526" y="395" width="1" height="19" fill="#f93357"/><rect x="532" y="393" width="1" height="21" fill="#f93357"/><rect x="538" y="391" width="1" height="23" fill="#f93357"/><rect x="544" y="395" width="1" height="19" fill="#f93357"/><rect x="550" y="396" width="1" height="18" fill="#f93357"/><rect x="556" y="399" width="1" height="15" fill="#f93357"/><rect x="562" y="397" width="1" height="17" fill="#f93357"/><rect x="568" y="395" width="1" height="19" fill="#f93357"/><rect x="574" y="392" width="1" height="22" fill="#f93357"/><rect x="580" y="395" width="1" height="19" fill="#f93357"/><rect x="586" y="394" width="1" height="20" fill="#f93357"/><rect x="592" y="396" width="1" height="18" fill="#f93357"/><rect x="598" y="395" width="1" height="19" fill="#f93357"/><rect x="604" y="397" width="1" height="17" fill="#f93357"/><rect x="610" y="397" width="1" height="17" fill="#f93357"/><rect x="616" y="395" width="1" height="19" fill="#f93357"/></g><path d="M614 363h3v1h-3zM613 364h1v1h-1zM611 365h2v1h-2zM609 366h2v1h-2zM606 367h3v1h-3zM603 368h3v1h-3zM600 369h3v1h-3zM597 370h3v1h-3zM594 371h3v1h-3zM590 372h4v1h-4zM587 373h3v1h-3zM584 374h3v1h-3zM581 375h3v1h-3zM578 376h3v1h-3zM338 377h16v1h-16zM575 377h3v1h-3zM334 378h4v1h-4zM354 378h4v1h-4zM572 378h3v1h-3zM330 379h4v1h-4zM358 379h4v1h-4zM570 379h2v1h-2zM325 380h5v1h-5zM362 380h3v1h-3zM567 380h3v1h-3zM320 381h5v1h-5zM365 381h3v1h-3zM565 381h2v1h-2zM314 382h6v1h-6zM368 382h2v1h-2zM562 382h3v1h-3zM307 383h7v1h-7zM370 383h2v1h-2zM559 383h3v1h-3zM301 384h6v1h-6zM372 384h2v1h-2zM556 384h3v1h-3zM295 385h6v1h-6zM374 385h2v1h-2zM553 385h3v1h-3zM289 386h6v1h-6zM376 386h2v1h-2zM550 386h3v1h-3zM284 387h5v1h-5zM378 387h2v1h-2zM547 387h3v1h-3zM279 388h5v1h-5zM380 388h2v1h-2zM544 388h3v1h-3zM274 389h5v1h-5zM382 389h2v1h-2zM541 389h3v1h-3zM268 390h6v1h-6zM384 390h2v1h-2zM539 390h2v1h-2zM264 391h4v1h-4zM386 391h3v1h-3zM536 391h3v1h-3zM258 392h6v1h-6zM389 392h3v1h-3zM534 392h2v1h-2zM254 393h4v1h-4zM392 393h3v1h-3zM531 393h3v1h-3zM250 394h4v1h-4zM395 394h4v1h-4zM529 394h2v1h-2zM245 395h5v1h-5zM399 395h3v1h-3zM526 395h3v1h-3zM240 396h5v1h-5zM402 396h3v1h-3zM524 396h2v1h-2zM230 397h10v1h-10zM405 397h3v1h-3zM521 397h3v1h-3zM223 398h7v1h-7zM408 398h4v1h-4zM518 398h3v1h-3zM201 399h22v1h-22zM411 399h4v1h-4zM515 399h3v1h-3zM191 400h10v1h-10zM415 400h4v1h-4zM465 400h22v1h-22zM507 400h8v1h-8zM183 401h8v1h-8zM419 401h3v1h-3zM454 401h12v1h-12zM487 401h20v1h-20zM174 402h9v1h-9zM422 402h3v1h-3zM448 402h6v1h-6zM4 403h6v1h-6zM165 403h9v1h-9zM425 403h3v1h-3zM443 403h5v1h-5zM10 404h6v1h-6zM156 404h9v1h-9zM428 404h15v1h-15zM16 405h6v1h-6zM149 405h7v1h-7zM22 406h6v1h-6zM144 406h5v1h-5zM28 407h23v1h-23zM138 407h6v1h-6zM51 408h19v1h-19zM131 408h7v1h-7zM70 409h21v1h-21zM95 409h36v1h-36zM91 410h4v1h-4z" fill="#e6e620" shape-rendering="crispEdges"/><path d="M616 354h1v1h-1zM614 355h2v1h-2zM613 356h1v1h-1zM611 357h2v1h-2zM609 358h2v1h-2zM606 359h3v1h-3zM602 360h4v1h-4zM599 361h3v1h-3zM597 362h2v1h-2zM594 363h3v1h-3zM590 364h4v1h-4zM586 365h4v1h-4zM581 366h5v1h-5zM577 367h4v1h-4zM573 368h4v1h-4zM572 369h1v1h-1zM570 370h2v1h-2zM569 371h1v1h-1zM333 372h6v1h-6zM567 372h2v1h-2zM331 373h2v1h-2zM339 373h6v1h-6zM565 373h2v1h-2zM329 374h2v1h-2zM345 374h2v1h-2zM563 374h2v1h-2zM327 375h2v1h-2zM347 375h2v1h-2zM561 375h2v1h-2zM323 376h5v1h-5zM349 376h1v1h-1zM559 376h2v1h-2zM319 377h4v1h-4zM350 377h2v1h-2zM557 377h2v1h-2zM315 378h4v1h-4zM352 378h1v1h-1zM552 378h5v1h-5zM312 379h3v1h-3zM353 379h1v1h-1zM546 379h6v1h-6zM309 380h3v1h-3zM354 380h1v1h-1zM536 380h11v1h-11zM306 381h3v1h-3zM355 381h1v1h-1zM534 381h2v1h-2zM298 382h8v1h-8zM356 382h2v1h-2zM532 382h2v1h-2zM285 383h13v1h-13zM358 383h1v1h-1zM531 383h1v1h-1zM276 384h9v1h-9zM359 384h1v1h-1zM530 384h1v1h-1zM269 385h7v1h-7zM360 385h1v1h-1zM529 385h1v1h-1zM262 386h7v1h-7zM361 386h2v1h-2zM528 386h1v1h-1zM257 387h5v1h-5zM363 387h1v1h-1zM527 387h1v1h-1zM255 388h2v1h-2zM364 388h2v1h-2zM525 388h2v1h-2zM252 389h3v1h-3zM366 389h1v1h-1zM524 389h1v1h-1zM249 390h3v1h-3zM367 390h2v1h-2zM523 390h1v1h-1zM247 391h2v1h-2zM369 391h1v1h-1zM522 391h1v1h-1zM244 392h3v1h-3zM370 392h2v1h-2zM521 392h1v1h-1zM241 393h3v1h-3zM372 393h1v1h-1zM519 393h2v1h-2zM234 394h7v1h-7zM373 394h2v1h-2zM518 394h1v1h-1zM229 395h5v1h-5zM375 395h1v1h-1zM517 395h1v1h-1zM226 396h3v1h-3zM376 396h1v1h-1zM515 396h2v1h-2zM194 397h11v1h-11zM223 397h3v1h-3zM377 397h2v1h-2zM514 397h1v1h-1zM182 398h12v1h-12zM205 398h18v1h-18zM379 398h2v1h-2zM452 398h9v1h-9zM510 398h4v1h-4zM168 399h14v1h-14zM381 399h2v1h-2zM449 399h3v1h-3zM461 399h22v1h-22zM507 399h3v1h-3zM157 400h11v1h-11zM383 400h2v1h-2zM446 400h3v1h-3zM483 400h3v1h-3zM503 400h4v1h-4zM149 401h8v1h-8zM385 401h2v1h-2zM445 401h1v1h-1zM486 401h4v1h-4zM493 401h10v1h-10zM143 402h6v1h-6zM387 402h8v1h-8zM443 402h2v1h-2zM490 402h3v1h-3zM138 403h5v1h-5zM395 403h5v1h-5zM442 403h1v1h-1zM135 404h3v1h-3zM400 404h4v1h-4zM440 404h2v1h-2zM131 405h4v1h-4zM404 405h4v1h-4zM439 405h1v1h-1zM4 406h1v1h-1zM128 406h3v1h-3zM408 406h4v1h-4zM437 406h2v1h-2zM5 407h4v1h-4zM124 407h4v1h-4zM411 407h5v1h-5zM434 407h3v1h-3zM9 408h12v1h-12zM120 408h4v1h-4zM416 408h6v1h-6zM431 408h3v1h-3zM21 409h50v1h-50zM99 409h21v1h-21zM422 409h9v1h-9zM71 410h28v1h-28z" fill="#f2f2f2" shape-rendering="crispEdges"/><path d="M316 458h1v1h-1zM315 459h2v1h-2zM314 460h1v1h-1zM317 460h1v1h-1zM314 461h1v1h-1zM317 461h1v1h-1zM313 462h1v1h-1zM318 462h1v1h-1zM255 463h2v1h-2zM312 463h1v1h-1zM318 463h1v1h-1zM333 463h2v1h-2zM254 464h1v1h-1zM257 464h1v1h-1zM285 464h2v1h-2zM311 464h1v1h-1zM319 464h1v1h-1zM330 464h3v1h-3zM334 464h1v1h-1zM252 465h2v1h-2zM258 465h2v1h-2zM267 465h2v1h-2zM281 465h4v1h-4zM286 465h1v1h-1zM310 465h1v1h-1zM319 465h1v1h-1zM328 465h2v1h-2zM334 465h1v1h-1zM250 466h2v1h-2zM260 466h1v1h-1zM265 466h2v1h-2zM269 466h1v1h-1zM280 466h1v1h-1zM287 466h1v1h-1zM309 466h1v1h-1zM319 466h1v1h-1zM327 466h1v1h-1zM335 466h1v1h-1zM249 467h1v1h-1zM261 467h1v1h-1zM263 467h2v1h-2zM270 467h1v1h-1zM279 467h1v1h-1zM287 467h1v1h-1zM307 467h2v1h-2zM320 467h1v1h-1zM327 467h1v1h-1zM335 467h1v1h-1zM248 468h1v1h-1zM262 468h1v1h-1zM271 468h1v1h-1zM278 468h1v1h-1zM288 468h1v1h-1zM305 468h2v1h-2zM320 468h1v1h-1zM326 468h1v1h-1zM335 468h1v1h-1zM574 468h1v1h-1zM247 469h1v1h-1zM272 469h1v1h-1zM277 469h1v1h-1zM288 469h1v1h-1zM303 469h2v1h-2zM321 469h1v1h-1zM325 469h1v1h-1zM335 469h1v1h-1zM573 469h2v1h-2zM246 470h1v1h-1zM273 470h1v1h-1zM276 470h1v1h-1zM289 470h1v1h-1zM300 470h3v1h-3zM321 470h1v1h-1zM324 470h1v1h-1zM336 470h1v1h-1zM572 470h1v1h-1zM575 470h1v1h-1zM615 470h2v1h-2zM245 471h1v1h-1zM273 471h1v1h-1zM275 471h1v1h-1zM289 471h1v1h-1zM298 471h2v1h-2zM321 471h1v1h-1zM323 471h1v1h-1zM336 471h1v1h-1zM571 471h1v1h-1zM575 471h1v1h-1zM614 471h1v1h-1zM244 472h1v1h-1zM274 472h1v1h-1zM290 472h1v1h-1zM297 472h1v1h-1zM322 472h1v1h-1zM336 472h1v1h-1zM569 472h2v1h-2zM576 472h1v1h-1zM598 472h1v1h-1zM612 472h2v1h-2zM243 473h1v1h-1zM290 473h1v1h-1zM296 473h1v1h-1zM336 473h1v1h-1zM568 473h1v1h-1zM576 473h1v1h-1zM597 473h1v1h-1zM599 473h1v1h-1zM611 473h1v1h-1zM243 474h1v1h-1zM291 474h1v1h-1zM295 474h1v1h-1zM336 474h1v1h-1zM566 474h2v1h-2zM576 474h1v1h-1zM596 474h1v1h-1zM600 474h1v1h-1zM610 474h1v1h-1zM242 475h1v1h-1zM291 475h1v1h-1zM294 475h1v1h-1zM337 475h1v1h-1zM565 475h1v1h-1zM577 475h1v1h-1zM595 475h1v1h-1zM601 475h1v1h-1zM608 475h2v1h-2zM241 476h1v1h-1zM292 476h2v1h-2zM337 476h1v1h-1zM531 476h8v1h-8zM563 476h2v1h-2zM577 476h1v1h-1zM586 476h1v1h-1zM594 476h1v1h-1zM602 476h1v1h-1zM607 476h1v1h-1zM196 477h2v1h-2zM226 477h3v1h-3zM240 477h1v1h-1zM292 477h1v1h-1zM337 477h1v1h-1zM529 477h2v1h-2zM538 477h1v1h-1zM562 477h1v1h-1zM578 477h1v1h-1zM585 477h1v1h-1zM587 477h3v1h-3zM593 477h1v1h-1zM603 477h1v1h-1zM606 477h1v1h-1zM147 478h2v1h-2zM194 478h2v1h-2zM198 478h2v1h-2zM226 478h1v1h-1zM229 478h5v1h-5zM240 478h1v1h-1zM337 478h1v1h-1zM526 478h3v1h-3zM539 478h1v1h-1zM561 478h1v1h-1zM578 478h1v1h-1zM584 478h1v1h-1zM590 478h2v1h-2zM593 478h1v1h-1zM603 478h1v1h-1zM605 478h1v1h-1zM145 479h2v1h-2zM149 479h1v1h-1zM193 479h1v1h-1zM200 479h3v1h-3zM225 479h1v1h-1zM234 479h2v1h-2zM239 479h1v1h-1zM338 479h1v1h-1zM525 479h1v1h-1zM539 479h1v1h-1zM560 479h1v1h-1zM578 479h1v1h-1zM583 479h1v1h-1zM592 479h1v1h-1zM604 479h1v1h-1zM142 480h3v1h-3zM149 480h1v1h-1zM191 480h2v1h-2zM202 480h1v1h-1zM224 480h1v1h-1zM236 480h3v1h-3zM338 480h1v1h-1zM524 480h1v1h-1zM540 480h1v1h-1zM560 480h1v1h-1zM579 480h1v1h-1zM583 480h1v1h-1zM140 481h2v1h-2zM149 481h1v1h-1zM190 481h1v1h-1zM202 481h1v1h-1zM224 481h1v1h-1zM338 481h1v1h-1zM522 481h2v1h-2zM540 481h1v1h-1zM559 481h1v1h-1zM579 481h1v1h-1zM582 481h1v1h-1zM138 482h2v1h-2zM150 482h1v1h-1zM189 482h1v1h-1zM203 482h1v1h-1zM223 482h1v1h-1zM338 482h1v1h-1zM521 482h1v1h-1zM541 482h1v1h-1zM558 482h1v1h-1zM580 482h2v1h-2zM136 483h2v1h-2zM150 483h1v1h-1zM189 483h1v1h-1zM203 483h1v1h-1zM222 483h1v1h-1zM338 483h1v1h-1zM520 483h1v1h-1zM541 483h1v1h-1zM558 483h1v1h-1zM580 483h1v1h-1zM135 484h1v1h-1zM151 484h1v1h-1zM165 484h2v1h-2zM188 484h1v1h-1zM203 484h1v1h-1zM222 484h1v1h-1zM339 484h1v1h-1zM520 484h1v1h-1zM541 484h1v1h-1zM550 484h1v1h-1zM557 484h1v1h-1zM135 485h1v1h-1zM151 485h1v1h-1zM163 485h2v1h-2zM167 485h1v1h-1zM187 485h1v1h-1zM204 485h1v1h-1zM221 485h1v1h-1zM339 485h1v1h-1zM519 485h1v1h-1zM542 485h1v1h-1zM549 485h1v1h-1zM551 485h6v1h-6zM134 486h1v1h-1zM152 486h1v1h-1zM161 486h2v1h-2zM167 486h1v1h-1zM186 486h1v1h-1zM204 486h1v1h-1zM221 486h1v1h-1zM339 486h1v1h-1zM519 486h1v1h-1zM542 486h1v1h-1zM548 486h1v1h-1zM556 486h1v1h-1zM134 487h1v1h-1zM152 487h1v1h-1zM160 487h1v1h-1zM168 487h1v1h-1zM185 487h1v1h-1zM204 487h1v1h-1zM220 487h1v1h-1zM339 487h1v1h-1zM518 487h1v1h-1zM543 487h1v1h-1zM547 487h1v1h-1zM133 488h1v1h-1zM153 488h1v1h-1zM158 488h2v1h-2zM168 488h1v1h-1zM184 488h1v1h-1zM204 488h1v1h-1zM219 488h1v1h-1zM340 488h1v1h-1zM345 488h2v1h-2zM518 488h1v1h-1zM543 488h1v1h-1zM546 488h1v1h-1zM133 489h1v1h-1zM153 489h1v1h-1zM157 489h1v1h-1zM169 489h1v1h-1zM183 489h1v1h-1zM205 489h1v1h-1zM219 489h1v1h-1zM340 489h1v1h-1zM342 489h3v1h-3zM346 489h1v1h-1zM448 489h1v1h-1zM517 489h1v1h-1zM544 489h2v1h-2zM132 490h1v1h-1zM153 490h1v1h-1zM156 490h1v1h-1zM169 490h1v1h-1zM181 490h2v1h-2zM205 490h1v1h-1zM218 490h1v1h-1zM340 490h2v1h-2zM346 490h1v1h-1zM447 490h1v1h-1zM449 490h1v1h-1zM517 490h1v1h-1zM544 490h1v1h-1zM132 491h1v1h-1zM154 491h2v1h-2zM170 491h1v1h-1zM180 491h1v1h-1zM205 491h1v1h-1zM218 491h1v1h-1zM347 491h1v1h-1zM447 491h1v1h-1zM449 491h1v1h-1zM517 491h1v1h-1zM131 492h1v1h-1zM170 492h1v1h-1zM178 492h2v1h-2zM206 492h1v1h-1zM217 492h1v1h-1zM347 492h1v1h-1zM446 492h1v1h-1zM450 492h1v1h-1zM516 492h1v1h-1zM131 493h1v1h-1zM171 493h1v1h-1zM176 493h2v1h-2zM206 493h1v1h-1zM217 493h1v1h-1zM347 493h1v1h-1zM446 493h1v1h-1zM450 493h1v1h-1zM516 493h1v1h-1zM130 494h1v1h-1zM171 494h1v1h-1zM175 494h1v1h-1zM206 494h1v1h-1zM216 494h1v1h-1zM347 494h1v1h-1zM445 494h1v1h-1zM451 494h1v1h-1zM515 494h1v1h-1zM130 495h1v1h-1zM172 495h3v1h-3zM206 495h1v1h-1zM216 495h1v1h-1zM347 495h1v1h-1zM445 495h1v1h-1zM451 495h1v1h-1zM515 495h1v1h-1zM129 496h1v1h-1zM172 496h1v1h-1zM207 496h1v1h-1zM215 496h1v1h-1zM348 496h1v1h-1zM444 496h1v1h-1zM452 496h1v1h-1zM514 496h1v1h-1zM129 497h1v1h-1zM207 497h1v1h-1zM215 497h1v1h-1zM348 497h1v1h-1zM443 497h1v1h-1zM453 497h1v1h-1zM510 497h5v1h-5zM128 498h1v1h-1zM207 498h1v1h-1zM214 498h1v1h-1zM348 498h1v1h-1zM443 498h1v1h-1zM453 498h1v1h-1zM508 498h2v1h-2zM127 499h1v1h-1zM207 499h1v1h-1zM213 499h2v1h-2zM348 499h1v1h-1zM442 499h1v1h-1zM454 499h1v1h-1zM507 499h1v1h-1zM127 500h1v1h-1zM208 500h1v1h-1zM210 500h3v1h-3zM348 500h1v1h-1zM441 500h1v1h-1zM454 500h1v1h-1zM507 500h1v1h-1zM126 501h1v1h-1zM208 501h2v1h-2zM349 501h1v1h-1zM440 501h1v1h-1zM455 501h1v1h-1zM506 501h1v1h-1zM125 502h1v1h-1zM349 502h1v1h-1zM438 502h2v1h-2zM455 502h1v1h-1zM506 502h1v1h-1zM125 503h1v1h-1zM349 503h1v1h-1zM437 503h1v1h-1zM456 503h1v1h-1zM505 503h1v1h-1zM100 504h1v1h-1zM124 504h1v1h-1zM349 504h1v1h-1zM436 504h1v1h-1zM456 504h1v1h-1zM505 504h1v1h-1zM100 505h2v1h-2zM123 505h1v1h-1zM349 505h1v1h-1zM436 505h1v1h-1zM456 505h1v1h-1zM504 505h1v1h-1zM99 506h1v1h-1zM102 506h1v1h-1zM122 506h1v1h-1zM350 506h1v1h-1zM435 506h1v1h-1zM457 506h1v1h-1zM504 506h1v1h-1zM99 507h1v1h-1zM102 507h1v1h-1zM121 507h1v1h-1zM350 507h1v1h-1zM435 507h1v1h-1zM457 507h1v1h-1zM503 507h1v1h-1zM58 508h1v1h-1zM98 508h1v1h-1zM103 508h1v1h-1zM120 508h1v1h-1zM350 508h1v1h-1zM435 508h1v1h-1zM458 508h1v1h-1zM503 508h1v1h-1zM38 509h3v1h-3zM57 509h1v1h-1zM59 509h1v1h-1zM98 509h1v1h-1zM104 509h1v1h-1zM120 509h1v1h-1zM350 509h1v1h-1zM434 509h1v1h-1zM458 509h1v1h-1zM478 509h1v1h-1zM501 509h2v1h-2zM34 510h4v1h-4zM40 510h1v1h-1zM57 510h1v1h-1zM59 510h1v1h-1zM97 510h1v1h-1zM104 510h1v1h-1zM119 510h1v1h-1zM350 510h1v1h-1zM434 510h1v1h-1zM459 510h1v1h-1zM476 510h2v1h-2zM479 510h1v1h-1zM498 510h3v1h-3zM33 511h1v1h-1zM41 511h1v1h-1zM56 511h1v1h-1zM60 511h1v1h-1zM97 511h1v1h-1zM105 511h1v1h-1zM109 511h10v1h-10zM350 511h1v1h-1zM433 511h1v1h-1zM459 511h1v1h-1zM475 511h1v1h-1zM480 511h1v1h-1zM496 511h2v1h-2zM32 512h1v1h-1zM41 512h1v1h-1zM56 512h1v1h-1zM60 512h1v1h-1zM96 512h1v1h-1zM106 512h3v1h-3zM351 512h1v1h-1zM433 512h1v1h-1zM460 512h1v1h-1zM473 512h2v1h-2zM481 512h1v1h-1zM495 512h1v1h-1zM31 513h1v1h-1zM42 513h1v1h-1zM55 513h1v1h-1zM61 513h1v1h-1zM96 513h1v1h-1zM351 513h1v1h-1zM433 513h1v1h-1zM460 513h1v1h-1zM472 513h1v1h-1zM482 513h1v1h-1zM495 513h1v1h-1zM30 514h1v1h-1zM42 514h1v1h-1zM54 514h1v1h-1zM62 514h1v1h-1zM95 514h1v1h-1zM351 514h1v1h-1zM432 514h1v1h-1zM461 514h2v1h-2zM470 514h2v1h-2zM483 514h1v1h-1zM494 514h1v1h-1zM29 515h1v1h-1zM42 515h1v1h-1zM54 515h1v1h-1zM62 515h1v1h-1zM95 515h1v1h-1zM351 515h1v1h-1zM432 515h1v1h-1zM463 515h1v1h-1zM469 515h1v1h-1zM484 515h1v1h-1zM494 515h1v1h-1zM28 516h1v1h-1zM43 516h1v1h-1zM53 516h1v1h-1zM63 516h1v1h-1zM94 516h1v1h-1zM351 516h1v1h-1zM432 516h1v1h-1zM464 516h2v1h-2zM467 516h2v1h-2zM485 516h1v1h-1zM493 516h1v1h-1zM25 517h3v1h-3zM43 517h1v1h-1zM52 517h1v1h-1zM64 517h1v1h-1zM93 517h1v1h-1zM352 517h1v1h-1zM394 517h2v1h-2zM431 517h1v1h-1zM466 517h1v1h-1zM486 517h1v1h-1zM492 517h1v1h-1zM22 518h3v1h-3zM44 518h1v1h-1zM52 518h1v1h-1zM64 518h5v1h-5zM72 518h5v1h-5zM92 518h1v1h-1zM352 518h1v1h-1zM363 518h4v1h-4zM393 518h1v1h-1zM396 518h4v1h-4zM431 518h1v1h-1zM487 518h1v1h-1zM492 518h1v1h-1zM21 519h1v1h-1zM44 519h1v1h-1zM51 519h1v1h-1zM69 519h3v1h-3zM77 519h1v1h-1zM91 519h1v1h-1zM352 519h2v1h-2zM361 519h2v1h-2zM367 519h2v1h-2zM393 519h1v1h-1zM400 519h1v1h-1zM431 519h1v1h-1zM488 519h1v1h-1zM491 519h1v1h-1zM20 520h1v1h-1zM44 520h1v1h-1zM50 520h1v1h-1zM77 520h1v1h-1zM89 520h2v1h-2zM354 520h3v1h-3zM360 520h1v1h-1zM369 520h2v1h-2zM392 520h1v1h-1zM401 520h2v1h-2zM430 520h1v1h-1zM489 520h1v1h-1zM491 520h1v1h-1zM19 521h1v1h-1zM45 521h1v1h-1zM49 521h1v1h-1zM78 521h1v1h-1zM88 521h1v1h-1zM357 521h3v1h-3zM370 521h1v1h-1zM392 521h1v1h-1zM403 521h1v1h-1zM429 521h1v1h-1zM490 521h1v1h-1zM18 522h1v1h-1zM45 522h1v1h-1zM48 522h1v1h-1zM78 522h1v1h-1zM87 522h1v1h-1zM371 522h1v1h-1zM391 522h1v1h-1zM404 522h1v1h-1zM427 522h2v1h-2zM17 523h1v1h-1zM46 523h2v1h-2zM78 523h1v1h-1zM87 523h1v1h-1zM371 523h1v1h-1zM390 523h1v1h-1zM405 523h2v1h-2zM425 523h2v1h-2zM16 524h1v1h-1zM46 524h1v1h-1zM79 524h1v1h-1zM86 524h1v1h-1zM372 524h1v1h-1zM390 524h1v1h-1zM406 524h1v1h-1zM418 524h7v1h-7zM16 525h1v1h-1zM79 525h1v1h-1zM86 525h1v1h-1zM372 525h1v1h-1zM389 525h1v1h-1zM407 525h1v1h-1zM417 525h1v1h-1zM15 526h1v1h-1zM80 526h1v1h-1zM85 526h1v1h-1zM373 526h1v1h-1zM388 526h1v1h-1zM408 526h1v1h-1zM416 526h1v1h-1zM14 527h1v1h-1zM80 527h1v1h-1zM84 527h1v1h-1zM373 527h1v1h-1zM387 527h2v1h-2zM409 527h1v1h-1zM415 527h1v1h-1zM13 528h1v1h-1zM81 528h1v1h-1zM84 528h1v1h-1zM374 528h1v1h-1zM385 528h2v1h-2zM410 528h1v1h-1zM415 528h1v1h-1zM12 529h1v1h-1zM81 529h1v1h-1zM83 529h1v1h-1zM374 529h1v1h-1zM384 529h1v1h-1zM410 529h1v1h-1zM414 529h1v1h-1zM11 530h1v1h-1zM82 530h1v1h-1zM375 530h1v1h-1zM382 530h2v1h-2zM411 530h1v1h-1zM413 530h1v1h-1zM11 531h1v1h-1zM82 531h1v1h-1zM375 531h1v1h-1zM380 531h2v1h-2zM412 531h1v1h-1zM10 532h1v1h-1zM376 532h1v1h-1zM378 532h2v1h-2zM9 533h1v1h-1zM376 533h2v1h-2zM7 534h2v1h-2zM6 535h1v1h-1zM5 536h1v1h-1zM4 537h1v1h-1z" fill="#e61ee6" shape-rendering="crispEdges"/><g shape-rendering="crispEdges"><rect x="645.5" y="314.5" width="57" height="17" fill="#000" stroke="#262626"/><rect x="517.5" y="539.5" width="110" height="15" fill="#000" stroke="#262626"/></g><text x="2" y="14" fill="#e4e4e4" font-size="12" font-family="Liberation Sans, Noto Sans CJK SC, sans-serif">现货白银</text><text x="50" y="14" fill="#f0a030" font-size="12" font-family="Liberation Sans, Noto Sans CJK SC, sans-serif">【日线】</text><g fill="none" stroke="#f0a030" stroke-width="0.9"><circle cx="103.3" cy="11.4" r="4.2"/><path d="M98.9 11.4H107.7M103.3 7V15.8"/></g><g><rect x="117" y="3" width="11" height="12" fill="#8a8a84"/><rect x="116" y="1.5" width="11" height="12.5" fill="#fff" stroke="#00007c"/><path d="M116.6 8.9L119.4 4.6L122.6 7.6L124.6 5.5H126.4" fill="none" stroke="#f01818" stroke-width="1.3"/><path d="M116.6 11.8L119.4 7.6L122.6 10.7L124.6 8.6H126.4" fill="none" stroke="#1818f0" stroke-width="1.3"/></g><text x="129.42" y="14" fill="#e4e4e4" font-size="12" font-family="Liberation Sans, sans-serif" letter-spacing="0.283">MA1(5,10,20,30,100)</text><text x="250.82" y="14" fill="#e4e4e4" font-size="12" font-family="Liberation Sans, sans-serif" letter-spacing="0.381">MA5:66.304</text><text x="326.22" y="14" fill="#e6e620" font-size="12" font-family="Liberation Sans, sans-serif" letter-spacing="0.460">MA10:64.352</text><text x="409.32" y="14" fill="#e61ee6" font-size="12" font-family="Liberation Sans, sans-serif" letter-spacing="0.289">MA20:60.321</text><text x="492.53" y="14" fill="#1edc1e" font-size="13" font-family="Liberation Sans, sans-serif" letter-spacing="0.000">M</text><g fill="none" stroke="#b4b4b4" stroke-width="1" shape-rendering="crispEdges"><rect x="582.5" y="1.5" width="13" height="13"/><rect x="598.5" y="1.5" width="13" height="13"/><rect x="614.5" y="1.5" width="13" height="13"/><rect x="630.5" y="1.5" width="13" height="13"/></g><g fill="#b4b4b4" shape-rendering="crispEdges"><rect x="584" y="7" width="3" height="2"/><rect x="591" y="7" width="3" height="2"/><rect x="588" y="3" width="2" height="3"/><rect x="588" y="10" width="2" height="3"/><rect x="601" y="3" width="1" height="10"/><rect x="600" y="12" width="10" height="1"/><rect x="600" y="4" width="3" height="1"/><rect x="608" y="11" width="1" height="3"/><rect x="604" y="4" width="1" height="6"/><path d="M608 4V10L605 7Z"/><rect x="617" y="3" width="1" height="10"/><rect x="616" y="12" width="10" height="1"/><rect x="616" y="4" width="3" height="1"/><rect x="624" y="11" width="1" height="3"/><path d="M620 4V10L625 7Z"/><rect x="636" y="7" width="5" height="2"/><path d="M639 5L642 8L639 11Z"/></g><rect x="633.5" y="3.5" width="3" height="9" fill="none" stroke="#b4b4b4" shape-rendering="crispEdges"/><text x="648.38" y="25" fill="#f03050" font-size="12" font-family="Liberation Sans, sans-serif" letter-spacing="0.283">73.415</text><text x="648.39" y="88" fill="#f03050" font-size="12" font-family="Liberation Sans, sans-serif" letter-spacing="0.282">62.785</text><text x="648.52" y="150" fill="#f03050" font-size="12" font-family="Liberation Sans, sans-serif" letter-spacing="0.226">53.694</text><text x="648.72" y="213" fill="#f03050" font-size="12" font-family="Liberation Sans, sans-serif" letter-spacing="0.228">45.919</text><text x="648.54" y="275" fill="#f03050" font-size="12" font-family="Liberation Sans, sans-serif" letter-spacing="0.245">39.270</text><text x="648.72" y="358" fill="#f03050" font-size="12" font-family="Liberation Sans, sans-serif" letter-spacing="0.088">4.065</text><text x="648.40" y="385" fill="#f03050" font-size="12" font-family="Liberation Sans, sans-serif" letter-spacing="0.175">2.176</text><text x="648.53" y="412" fill="#f03050" font-size="12" font-family="Liberation Sans, sans-serif" letter-spacing="0.161">0.287</text><text x="648.48" y="461" fill="#f03050" font-size="12" font-family="Liberation Sans, sans-serif" letter-spacing="0.269">85.063</text><text x="648.38" y="488" fill="#f03050" font-size="12" font-family="Liberation Sans, sans-serif" letter-spacing="0.253">70.944</text><text x="648.52" y="515" fill="#f03050" font-size="12" font-family="Liberation Sans, sans-serif" letter-spacing="0.226">56.824</text><text x="647.54" y="327" fill="#f0a030" font-size="12" font-family="Liberation Sans, sans-serif" letter-spacing="0.151">35.222</text><text x="607.22" y="170" fill="#ff8238" font-size="12" font-family="Liberation Sans, sans-serif" letter-spacing="0.241">50.206</text><text x="568.86" y="40.7" fill="#f03050" font-size="12" font-family="Liberation Sans, sans-serif" font-weight="bold" letter-spacing="0.353">69.427</text><text x="345.33" y="138" fill="#f03050" font-size="12" font-family="Liberation Sans, sans-serif" font-weight="bold" letter-spacing="0.240">54.436</text><text x="9.32" y="316" fill="#38c886" font-size="12" font-family="Liberation Sans, sans-serif" font-weight="bold" letter-spacing="0.153">36.190</text><text x="2.02" y="347" fill="#e4e4e4" font-size="12" font-family="Liberation Sans, sans-serif" letter-spacing="0.197">MACD(26,12,9)</text><text x="92.22" y="347" fill="#e4e4e4" font-size="12" font-family="Liberation Sans, sans-serif" letter-spacing="-0.137">DIFF:4.065</text><text x="159.02" y="347" fill="#e6e620" font-size="12" font-family="Liberation Sans, sans-serif" letter-spacing="-0.006">DEA:3.442</text><text x="224.82" y="347" fill="#e61ee6" font-size="12" font-family="Liberation Sans, sans-serif" letter-spacing="0.368">MACD:1.246</text><text x="1.72" y="450" fill="#e4e4e4" font-size="12" font-family="Liberation Sans, sans-serif" letter-spacing="0.068">RSI(14,14,14)</text><text x="80.72" y="450" fill="#e4e4e4" font-size="12" font-family="Liberation Sans, sans-serif" letter-spacing="0.034">RSI1:79.010</text><text x="155.42" y="450" fill="#e6e620" font-size="12" font-family="Liberation Sans, sans-serif" letter-spacing="0.134">RSI2:79.010</text><text x="230.72" y="450" fill="#e61ee6" font-size="12" font-family="Liberation Sans, sans-serif" letter-spacing="0.144">RSI3:79.010</text><text x="12.18" y="551" fill="#c8c8c8" font-size="12" font-family="Liberation Sans, sans-serif" font-weight="bold" letter-spacing="0.235">2025/08</text><text x="138.58" y="551" fill="#c8c8c8" font-size="12" font-family="Liberation Sans, sans-serif" font-weight="bold" letter-spacing="0.247">2025/09</text><text x="270.08" y="551" fill="#c8c8c8" font-size="12" font-family="Liberation Sans, sans-serif" font-weight="bold" letter-spacing="0.305">2025/10</text><text x="408.58" y="551" fill="#c8c8c8" font-size="12" font-family="Liberation Sans, sans-serif" font-weight="bold" letter-spacing="0.029">2025/11</text><text x="518.97" y="551.2" fill="#f0a030" font-size="12.5" font-family="Liberation Sans, sans-serif" letter-spacing="0.457">2025/11/28</text><text x="589" y="551" fill="#f0a030" font-size="12" font-family="Liberation Sans, Noto Sans CJK SC, sans-serif">星期五</text><text x="571.10" y="533.4" fill="#e8eaf4" font-size="29.2" font-family="Liberation Sans, sans-serif" letter-spacing="3.508" transform="matrix(1 0 0 1.02 0 -10.668)">FX678</text></svg></body></html>
